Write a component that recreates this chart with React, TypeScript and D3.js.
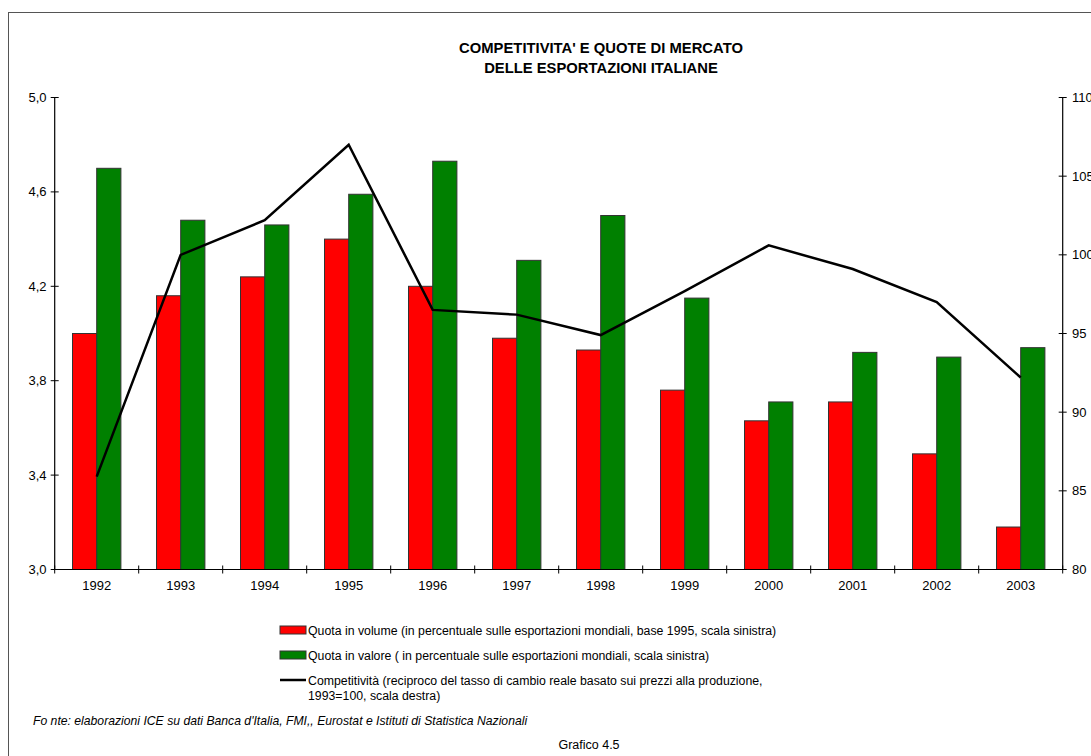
import React from "react";
import * as d3 from "d3";

const years = ["1992","1993","1994","1995","1996","1997","1998","1999","2000","2001","2002","2003"];
const quotaVolume = [4.0, 4.16, 4.24, 4.40, 4.20, 3.98, 3.93, 3.76, 3.63, 3.71, 3.49, 3.18];
const quotaValore = [4.70, 4.48, 4.46, 4.59, 4.73, 4.31, 4.50, 4.15, 3.71, 3.92, 3.90, 3.94];
const competitivita = [85.9, 100.0, 102.2, 107.0, 96.5, 96.2, 94.9, 97.7, 100.6, 99.1, 97.0, 92.2];
const leftTicks = [3.0, 3.4, 3.8, 4.2, 4.6, 5.0];
const rightTicks = [80, 85, 90, 95, 100, 105, 110];

const legendItems = [
  { type: "rect", color: "#FF0000", lines: ["Quota in volume (in percentuale sulle esportazioni mondiali, base 1995, scala sinistra)"] },
  { type: "rect", color: "#008000", lines: ["Quota in valore ( in percentuale sulle esportazioni mondiali, scala sinistra)"] },
  { type: "line", color: "#000", lines: ["Competitività (reciproco del tasso di cambio reale basato sui prezzi alla produzione,", "1993=100, scala destra)"] },
];

const W = 1091, H = 756;
const xL = 54.7, xR = 1062.7, yT = 97.5, yB = 569.5;

export default function App() {
  const x = d3.scaleBand<string>().domain(years).range([xL, xR]).paddingInner(0).paddingOuter(0);
  const yl = d3.scaleLinear().domain([3.0, 5.0]).range([yB, yT]);
  const yr = d3.scaleLinear().domain([80, 110]).range([yB, yT]);
  const bw = 24.2;
  const center = (y: string) => (x(y) as number) + x.bandwidth() / 2;
  const line = d3.line<number>().x((_, i) => center(years[i])).y(d => yr(d));
  const font = "'Liberation Sans', Arial, sans-serif";
  const boundaries = years.map((_, i) => xL + i * x.bandwidth()).concat([xR]);

  return (
    <svg width={W} height={H} style={{ position: "absolute", left: 0, top: 0, fontFamily: font }}>
      <rect x={0} y={0} width={W} height={H} fill="#fff" />
      <rect x={8.5} y={12.5} width={1200} height={800} fill="none" stroke="#555" strokeWidth={1} />
      <text x={601} y={53} textAnchor="middle" fontSize={14.8} fontWeight="bold">COMPETITIVITA' E QUOTE DI MERCATO</text>
      <text x={601} y={72.5} textAnchor="middle" fontSize={14.8} fontWeight="bold">DELLE ESPORTAZIONI ITALIANE</text>

      {years.map((yr_, i) => (
        <g key={yr_}>
          <rect x={center(yr_) - bw} y={yl(quotaVolume[i])} width={bw} height={yB - yl(quotaVolume[i])} fill="#FF0000" stroke="#333" strokeWidth={1} />
          <rect x={center(yr_)} y={yl(quotaValore[i])} width={bw} height={yB - yl(quotaValore[i])} fill="#008000" stroke="#333" strokeWidth={1} />
        </g>
      ))}

      <path d={line(competitivita) || ""} fill="none" stroke="#000" strokeWidth={2.5} strokeLinejoin="miter" />

      {/* left axis */}
      <line x1={xL} x2={xL} y1={yT} y2={yB} stroke="#000" strokeWidth={1.2} />
      {leftTicks.map(t => (
        <g key={t}>
          <line x1={xL - 4} x2={xL + 4} y1={yl(t)} y2={yl(t)} stroke="#000" />
          <text x={46.5} y={yl(t) + 4.5} textAnchor="end" fontSize={13}>{t.toFixed(1).replace(".", ",")}</text>
        </g>
      ))}
      {/* right axis */}
      <line x1={xR} x2={xR} y1={yT} y2={yB} stroke="#000" strokeWidth={1.2} />
      {rightTicks.map(t => (
        <g key={t}>
          <line x1={xR - 4} x2={xR + 4} y1={yr(t)} y2={yr(t)} stroke="#000" />
          <text x={1072} y={yr(t) + 4.5} textAnchor="start" fontSize={13}>{t}</text>
        </g>
      ))}
      {/* x axis */}
      <line x1={xL} x2={xR} y1={yB} y2={yB} stroke="#000" strokeWidth={1.2} />
      {boundaries.map((b, i) => (
        <line key={i} x1={b} x2={b} y1={yB - 4} y2={yB + 4} stroke="#000" />
      ))}
      {years.map(y => (
        <text key={y} x={center(y)} y={590} textAnchor="middle" fontSize={13}>{y}</text>
      ))}

      {/* legend */}
      {legendItems.map((it, i) => {
        const cy = 630 + i * 25;
        return (
          <g key={i}>
            {it.type === "rect" ? (
              <rect x={280} y={cy - 4} width={26} height={8} fill={it.color} stroke="#333" strokeWidth={1} />
            ) : (
              <line x1={280} x2={306} y1={cy} y2={cy} stroke="#000" strokeWidth={2.5} />
            )}
            {it.lines.map((l, j) => (
              <text key={j} x={308} y={cy + 4.5 + j * 15} fontSize={12.3}>{l}</text>
            ))}
          </g>
        );
      })}

      <text x={33} y={725} fontSize={12.2} fontStyle="italic">Fo nte: elaborazioni ICE su dati Banca d'Italia, FMI,, Eurostat e Istituti di Statistica Nazionali</text>
      <text x={589} y={748.5} textAnchor="middle" fontSize={12.5}>Grafico 4.5</text>
    </svg>
  );
}
